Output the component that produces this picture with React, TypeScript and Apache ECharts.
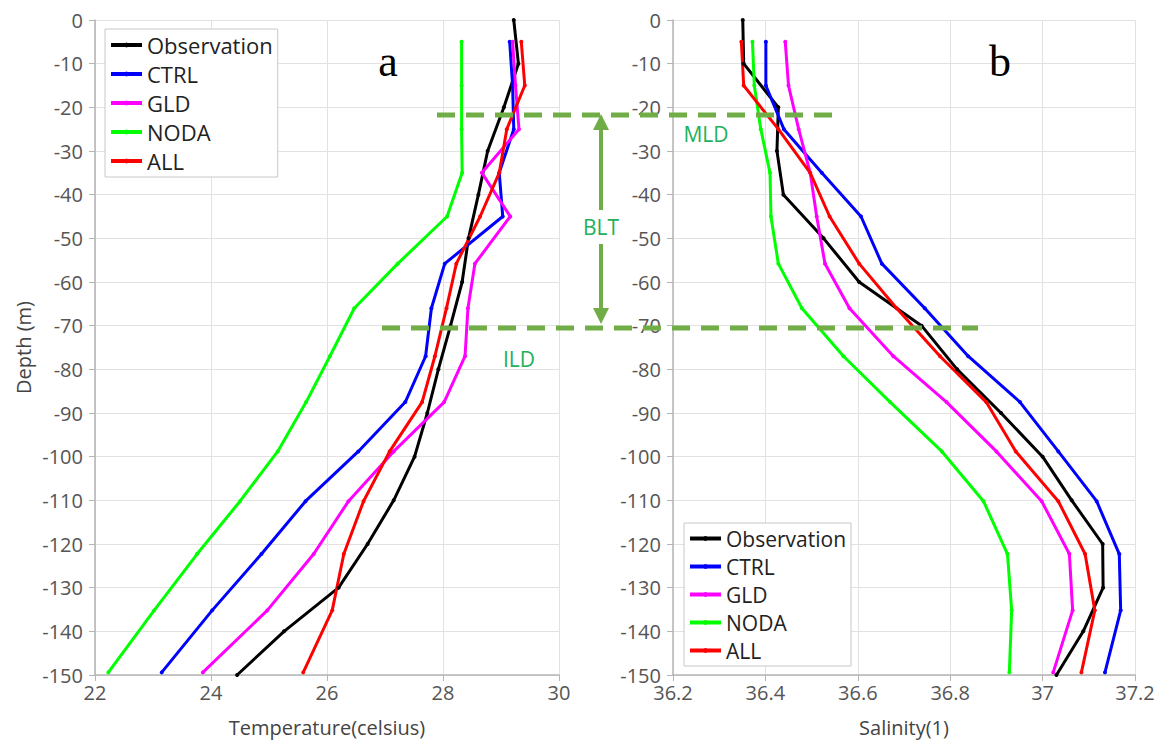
import React, { useEffect, useRef } from "react";
import * as echarts from "echarts";

const seriesNames = ["Observation", "CTRL", "GLD", "NODA", "ALL"];
const seriesColors = ["#000000", "#0000ff", "#ff00ff", "#00ff00", "#ff0000"];

const depthObs = [0, -10, -20, -30, -40, -50, -60, -70, -80, -90, -100, -110, -120, -130, -140, -150];
const depthModel = [-5, -15, -25, -35, -45, -55.8, -66, -77, -87.5, -98.8, -110.2, -122.3, -135.2, -149.4];

// Temperature (celsius)
const obsT = [29.22, 29.3, 29.05, 28.77, 28.61, 28.44, 28.33, 28.13, 27.92, 27.73, 27.51, 27.15, 26.7, 26.2, 25.26, 24.45];
const ctrlT = [29.15, 29.2, 29.22, 28.97, 29.03, 28.03, 27.8, 27.7, 27.35, 26.54, 25.63, 24.87, 24.02, 23.15];
const gldT = [29.2, 29.25, 29.31, 28.67, 29.16, 28.55, 28.43, 28.38, 28.02, 27.15, 26.37, 25.77, 24.97, 23.86];
const nodaT = [28.32, 28.32, 28.32, 28.33, 28.07, 27.22, 26.47, 26.05, 25.64, 25.15, 24.5, 23.76, 23.02, 22.23];
const allT = [29.35, 29.41, 29.1, 28.97, 28.64, 28.23, 28.06, 27.86, 27.64, 27.08, 26.63, 26.29, 26.09, 25.59];

// Salinity (1)
const obsS = [36.351, 36.353, 36.428, 36.425, 36.439, 36.526, 36.603, 36.738, 36.815, 36.91, 37.0, 37.063, 37.13, 37.131, 37.088, 37.03];
const ctrlS = [36.401, 36.401, 36.44, 36.522, 36.607, 36.652, 36.745, 36.839, 36.951, 37.034, 37.117, 37.166, 37.169, 37.135];
const gldS = [36.443, 36.45, 36.472, 36.497, 36.511, 36.529, 36.582, 36.677, 36.792, 36.9, 36.998, 37.058, 37.065, 37.023];
const nodaS = [36.372, 36.376, 36.39, 36.41, 36.412, 36.428, 36.479, 36.569, 36.67, 36.782, 36.872, 36.924, 36.933, 36.928];
const allS = [36.348, 36.353, 36.428, 36.497, 36.539, 36.603, 36.684, 36.778, 36.878, 36.942, 37.034, 37.092, 37.113, 37.084];

const depthTicks = { min: -150, max: 0, interval: 10 };
const tempTicks = { min: 22, max: 30, interval: 2 };
const salTicks = { min: 36.2, max: 37.2, interval: 0.2 };

const FONT = "Open Sans";
const ANNOT_LINE = "#70ad47";
const ANNOT_TEXT = "#22b05a";

function pairs(xs: number[], ys: number[]) {
  return xs.map((x, i) => [x, ys[i]]);
}

export default function App() {
  const ref = useRef<HTMLDivElement>(null);

  useEffect(() => {
    document.body.style.margin = "0";
    if (!ref.current) return;
    const chart = echarts.init(ref.current, null, { renderer: "svg" });

    const tempData = [pairs(obsT, depthObs), pairs(ctrlT, depthModel), pairs(gldT, depthModel), pairs(nodaT, depthModel), pairs(allT, depthModel)];
    const salData = [pairs(obsS, depthObs), pairs(ctrlS, depthModel), pairs(gldS, depthModel), pairs(nodaS, depthModel), pairs(allS, depthModel)];

    const axisCommon = {
      type: "value" as const,
      axisLine: { show: true, onZero: false, lineStyle: { color: "#b5b5b5", width: 1.5 } },
      axisTick: { show: true, inside: false, length: 6, lineStyle: { color: "#b5b5b5" } },
      splitLine: { show: true, lineStyle: { color: "#e2e2e2", width: 1 } },
      axisLabel: { color: "#555", fontSize: 20, fontFamily: FONT },
      nameTextStyle: { color: "#444", fontSize: 20, fontFamily: FONT },
    };

    const mkSeries = (data: number[][][], axisIdx: number) =>
      data.map((d, i) => ({
        name: seriesNames[i],
        type: "line",
        xAxisIndex: axisIdx,
        yAxisIndex: axisIdx,
        data: d,
        symbol: "circle",
        symbolSize: 4,
        showSymbol: true,
        color: seriesColors[i],
        lineStyle: { width: 3, color: seriesColors[i] },
        itemStyle: { color: seriesColors[i] },
      }));

    const legendCommon = {
      orient: "vertical" as const,
      data: seriesNames,
      backgroundColor: "#fff",
      borderColor: "#c8c8c8",
      borderWidth: 1,
      borderRadius: 0,
      itemWidth: 31,
      itemHeight: 6,
      lineStyle: { width: 4 },
      textStyle: { color: "#222", fontFamily: FONT },
    };

    const annotText = (text: string, x: number, y: number) => ({
      type: "text",
      x,
      y,
      z: 100,
      style: { text, fill: ANNOT_TEXT, fontSize: 21, fontFamily: FONT, textAlign: "center", textVerticalAlign: "middle" },
    });

    chart.setOption({
      animation: false,
      grid: [
        { left: 95, top: 20, width: 464, height: 656 },
        { left: 673, top: 20, width: 462, height: 656 },
      ],
      xAxis: [
        {
          ...axisCommon,
          gridIndex: 0,
          ...tempTicks,
          name: "Temperature(celsius)",
          nameLocation: "middle",
          nameGap: 42,
          axisLabel: { ...axisCommon.axisLabel, margin: 7 },
        },
        {
          ...axisCommon,
          gridIndex: 1,
          ...salTicks,
          name: "Salinity(1)",
          nameLocation: "middle",
          nameGap: 42,
          axisLabel: { ...axisCommon.axisLabel, margin: 7, formatter: (v: number) => String(Math.round(v * 10) / 10) },
        },
      ],
      yAxis: [
        {
          ...axisCommon,
          gridIndex: 0,
          ...depthTicks,
          name: "Depth (m)",
          nameLocation: "middle",
          nameGap: 62,
          axisLabel: { ...axisCommon.axisLabel, margin: 12 },
        },
        {
          ...axisCommon,
          gridIndex: 1,
          ...depthTicks,
          axisLabel: { ...axisCommon.axisLabel, margin: 12 },
        },
      ],
      legend: [
        { ...legendCommon, left: 105, top: 29, padding: [5, 5, 5, 4], itemGap: 7, textStyle: { ...legendCommon.textStyle, fontSize: 22 } },
        { ...legendCommon, left: 684, top: 523, padding: [5, 5, 5, 4], itemGap: 7, textStyle: { ...legendCommon.textStyle, fontSize: 21 } },
      ],
      series: [...mkSeries(tempData, 0), ...mkSeries(salData, 1)],
      graphic: [
        { type: "line", shape: { x1: 437, y1: 115, x2: 843, y2: 115 }, style: { stroke: ANNOT_LINE, lineWidth: 5, lineDash: [18, 11] }, z: 100 },
        { type: "line", shape: { x1: 382, y1: 328, x2: 978, y2: 328 }, style: { stroke: ANNOT_LINE, lineWidth: 5, lineDash: [18, 11] }, z: 100 },
        { type: "line", shape: { x1: 601, y1: 126, x2: 601, y2: 210 }, style: { stroke: ANNOT_LINE, lineWidth: 4 }, z: 100 },
        { type: "line", shape: { x1: 601, y1: 244, x2: 601, y2: 311 }, style: { stroke: ANNOT_LINE, lineWidth: 4 }, z: 100 },
        { type: "polygon", shape: { points: [[601, 114], [593, 130], [609, 130]] }, style: { fill: ANNOT_LINE }, z: 100 },
        { type: "polygon", shape: { points: [[601, 324], [593, 308], [609, 308]] }, style: { fill: ANNOT_LINE }, z: 100 },
        annotText("MLD", 706, 134),
        annotText("BLT", 601, 227),
        annotText("ILD", 519, 359),
        { type: "text", x: 388, y: 61, style: { text: "a", fill: "#000", fontSize: 44, fontFamily: "Liberation Serif", textAlign: "center", textVerticalAlign: "middle" }, z: 100 },
        { type: "text", x: 1000, y: 61, style: { text: "b", fill: "#000", fontSize: 44, fontFamily: "Liberation Serif", textAlign: "center", textVerticalAlign: "middle" }, z: 100 },
      ],
    });

    return () => chart.dispose();
  }, []);

  return <div ref={ref} style={{ width: 1160, height: 742 }} />;
}
